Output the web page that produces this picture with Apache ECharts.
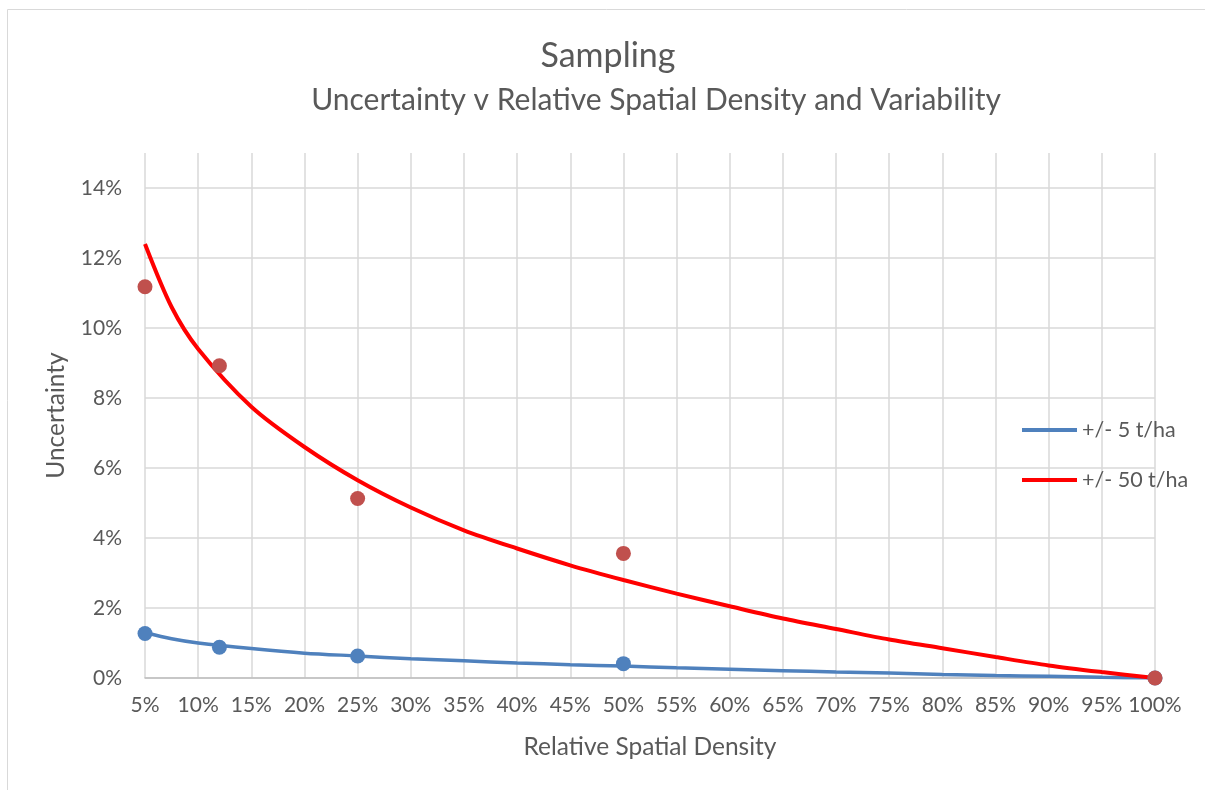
<!DOCTYPE html>
<html>
<head>
<meta charset="utf-8">
<title>Sampling</title>
<script src="https://cdn.jsdelivr.net/npm/echarts@6/dist/echarts.min.js"></script>
<style>
  html, body { margin: 0; padding: 0; background: #fff; }
  #chart { width: 1205px; height: 790px; }
</style>
</head>
<body>
<div id="chart"></div>
<script>
  // sample points (relative spatial density %, uncertainty %)
  var sampleDensity = [5, 12, 25, 50, 100]
  var uncertainty5 = [1.27, 0.88, 0.63, 0.41, 0]
  var uncertainty50 = [11.18, 8.92, 5.13, 3.56, 0]

  // trend lines (extra reading at 7.5% where it bends hardest)
  var trendDensity = [5, 7.5, 10, 15, 20, 25, 30, 35, 40, 45, 50, 55, 60, 65, 70, 75, 80, 85, 90, 95, 100]
  var trend5 = [1.3, 1.12, 1.0, 0.84, 0.71, 0.63, 0.55, 0.49, 0.43, 0.38, 0.34, 0.29, 0.25, 0.21, 0.17, 0.14, 0.1, 0.07, 0.05, 0.02, 0]
  var trend50 = [12.4, 10.6, 9.4, 7.75, 6.6, 5.65, 4.87, 4.22, 3.7, 3.22, 2.8, 2.41, 2.05, 1.7, 1.4, 1.1, 0.85, 0.6, 0.36, 0.17, 0]

  var legendNames = ['+/- 5 t/ha', '+/- 50 t/ha']

  function pairs(xs, ys) {
    var out = []
    for (var i = 0; i < xs.length; i++) out.push([xs[i], ys[i]])
    return out
  }

  var font = 'Lato, "Open Sans", sans-serif'
  var textColor = '#595959'

  var myChart = echarts.init(document.getElementById('chart'))
  myChart.setOption({
    animation: false,
    textStyle: { fontFamily: font },
    // two title lines, each centred on its own
    title: [
      {
        text: 'Sampling',
        left: 603,
        top: 34,
        textAlign: 'center',
        textStyle: { fontFamily: font, fontSize: 34, lineHeight: 34, fontWeight: 'normal', color: textColor }
      },
      {
        text: 'Uncertainty v Relative Spatial Density and Variability',
        left: 651,
        top: 80,
        textAlign: 'center',
        textStyle: { fontFamily: font, fontSize: 30, lineHeight: 30, fontWeight: 'normal', color: textColor }
      }
    ],
    legend: {
      data: legendNames,
      orient: 'vertical',
      left: 1017,
      top: 414,
      icon: 'rect',
      itemWidth: 55,
      itemHeight: 4,
      itemGap: 28,
      textStyle: { fontFamily: font, fontSize: 21.5, lineHeight: 22, color: textColor }
    },
    grid: {
      left: 145,
      right: 50,
      top: 153,
      bottom: 112
    },
    xAxis: {
      type: 'value',
      min: 5,
      max: 100,
      interval: 5,
      name: 'Relative Spatial Density',
      nameLocation: 'middle',
      nameGap: 57,
      nameTextStyle: { fontSize: 24.5, color: textColor },
      axisLine: { lineStyle: { color: '#bfbfbf', width: 1.5 } },
      axisTick: { show: false },
      axisLabel: { fontSize: 21, color: textColor, margin: 17, formatter: function (v) { return v + '%' } },
      splitLine: { show: true, lineStyle: { color: '#d9d9d9', width: 1.5 } }
    },
    yAxis: {
      type: 'value',
      min: 0,
      max: 15,
      interval: 2,
      name: 'Uncertainty',
      nameLocation: 'middle',
      nameGap: 76,
      nameTextStyle: { fontSize: 24.5, color: textColor },
      axisLine: { show: false },
      axisTick: { show: false },
      axisLabel: { fontSize: 21, color: textColor, margin: 23, showMaxLabel: false, formatter: function (v) { return v + '%' } },
      splitLine: { show: true, showMaxLine: false, lineStyle: { color: '#d9d9d9', width: 1.5 } }
    },
    graphic: [{
      type: 'rect',
      shape: { x: 7.5, y: 9.5, width: 1220, height: 800 },
      style: { fill: 'none', stroke: '#d9d9d9', lineWidth: 1 },
      silent: true
    }],
    series: [
      {
        name: legendNames[0],
        type: 'line',
        data: pairs(trendDensity, trend5),
        smooth: 0.3,
        symbol: 'none',
        lineStyle: { color: '#4f81bd', width: 3.5 },
        itemStyle: { color: '#4f81bd' },
        z: 2
      },
      {
        name: legendNames[1],
        type: 'line',
        data: pairs(trendDensity, trend50),
        smooth: 0.3,
        symbol: 'none',
        lineStyle: { color: '#ff0000', width: 4 },
        itemStyle: { color: '#ff0000' },
        z: 2
      },
      {
        name: 'points 5',
        type: 'scatter',
        data: pairs(sampleDensity, uncertainty5),
        symbolSize: 15,
        itemStyle: { color: '#4f81bd', opacity: 1 },
        z: 3
      },
      {
        name: 'points 50',
        type: 'scatter',
        data: pairs(sampleDensity, uncertainty50),
        symbolSize: 15,
        itemStyle: { color: '#c0504d', opacity: 1 },
        z: 4
      }
    ]
  })
</script>
</body>
</html>
